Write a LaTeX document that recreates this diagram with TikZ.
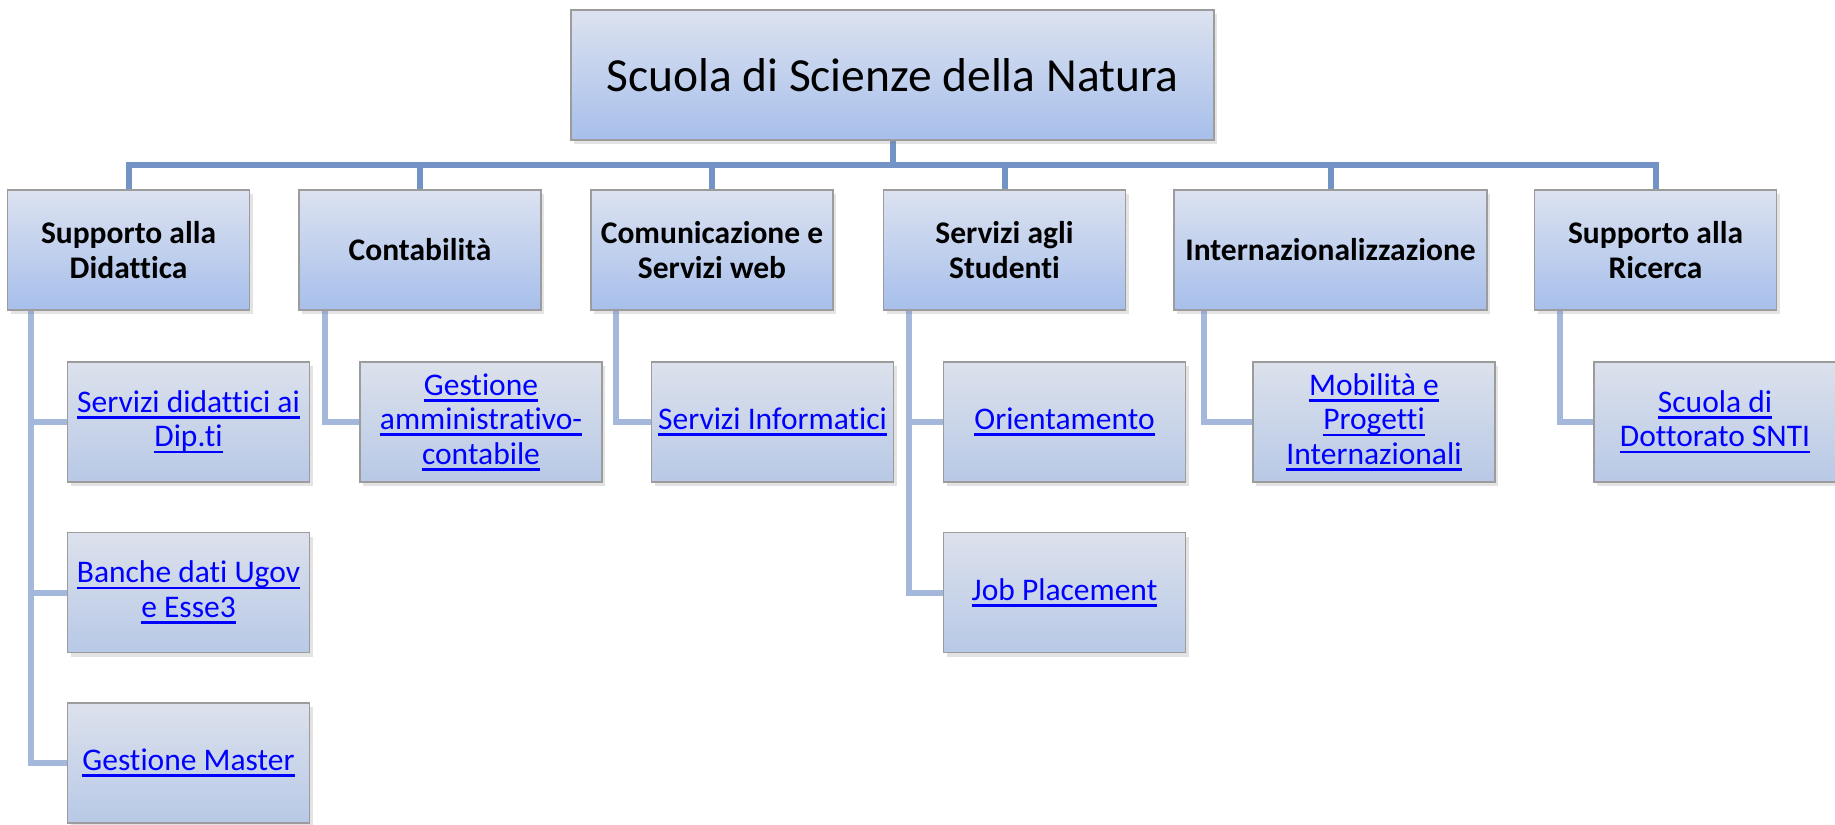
\documentclass[tikz,border=0pt]{standalone}
\usepackage{fontspec}
\setmainfont{Carlito}[RawFeature={-liga;-clig;-dlig;-calt}]
\usetikzlibrary{shadows,backgrounds}
\definecolor{barcol}{HTML}{7393C6}
\definecolor{trunkcol}{HTML}{A4B8DB}
\definecolor{boxborder}{HTML}{9C9C9C}
\definecolor{hTop}{HTML}{DCE2F0}
\definecolor{hBot}{HTML}{A7BFEB}
\definecolor{sTop}{HTML}{DCE1EC}
\definecolor{sBot}{HTML}{B8C9E6}
\definecolor{linkblue}{HTML}{0000FF}
\newsavebox{\lkbox}
\newcommand{\lk}[1]{\textcolor{linkblue}{\sbox{\lkbox}{#1}\rlap{\rule[-6.5pt]{\wd\lkbox}{2.6pt}}\usebox{\lkbox}}}
\tikzset{
  boxbase/.style={draw=boxborder, line width=1.2pt, inner sep=0pt, align=center,
    drop shadow={shadow xshift=3pt, shadow yshift=-4pt, opacity=0.22}},
  rootbox/.style={boxbase, top color=hTop, bottom color=hBot,
    minimum width=643pt, minimum height=130pt, font=\fontsize{47.5}{55}\selectfont},
  headbox/.style={boxbase, top color=hTop, bottom color=hBot,
    minimum width=242pt, minimum height=120pt, font=\fontsize{31.5}{35}\selectfont\bfseries},
  subbox/.style={boxbase, top color=sTop, bottom color=sBot,
    minimum width=242pt, minimum height=120pt, font=\fontsize{31.5}{34.5}\selectfont},
  mainline/.style={draw=barcol, line width=6pt},
  subline/.style={draw=trunkcol, line width=6pt}
}
\begin{document}
\begin{tikzpicture}[x=1pt,y=-1pt]
\useasboundingbox (0,0) rectangle (1835,824);
\coordinate (bar) at (892.5,165);
\node[rootbox] (root) at (892.5,75) {Scuola di Scienze della Natura};
\node[headbox] (h1) at (128.5,250) {Supporto alla\\Didattica};
\node[headbox] (h2) at (420,250) {Contabilità};
\node[headbox] (h3) at (712,250) {Comunicazione e\\Servizi web};
\node[headbox] (h4) at (1004.5,250) {Servizi agli\\Studenti};
\node[headbox, minimum width=313pt] (h5) at (1330.5,250) {Internazionalizzazione};
\node[headbox] (h6) at (1655.5,250) {Supporto alla\\Ricerca};

\node[subbox] (s1) at (188.5,422) {\lk{Servizi didattici ai}\\\lk{Dip.ti}};
\node[subbox] (s2) at (188.5,592.5) {\lk{Banche dati Ugov}\\\lk{e Esse3}};
\node[subbox] (s3) at (188.5,763) {\lk{Gestione Master}};
\node[subbox] (s4) at (481,422) {\lk{Gestione}\\\lk{amministrativo-}\\\lk{contabile}};
\node[subbox] (s5) at (772.5,422) {\lk{Servizi Informatici}};
\node[subbox] (s6) at (1064.5,422) {\lk{Orientamento}};
\node[subbox] (s7) at (1064.5,592.5) {\lk{Job Placement}};
\node[subbox] (s8) at (1374,422) {\lk{Mobilità e}\\\lk{Progetti}\\\lk{Internazionali}};
\node[subbox] (s9) at (1715,422) {\lk{Scuola di}\\\lk{Dottorato SNTI}};

\begin{scope}[on background layer]
  \draw[mainline] (root.south) -- (bar);
  \foreach \h in {h1,h2,h3,h4,h5,h6}{
    \draw[mainline] (bar) -| (\h.north);
  }
  \draw[subline] ([xshift=24pt]h1.south west) |- (s1.west);
  \draw[subline] ([xshift=24pt]h1.south west) |- (s2.west);
  \draw[subline] ([xshift=24pt]h1.south west) |- (s3.west);
  \draw[subline] ([xshift=27pt]h2.south west) |- (s4.west);
  \draw[subline] ([xshift=26pt]h3.south west) |- (s5.west);
  \draw[subline] ([xshift=26pt]h4.south west) |- (s6.west);
  \draw[subline] ([xshift=26pt]h4.south west) |- (s7.west);
  \draw[subline] ([xshift=31pt]h5.south west) |- (s8.west);
  \draw[subline] ([xshift=26pt]h6.south west) |- (s9.west);
\end{scope}
\end{tikzpicture}
\end{document}
